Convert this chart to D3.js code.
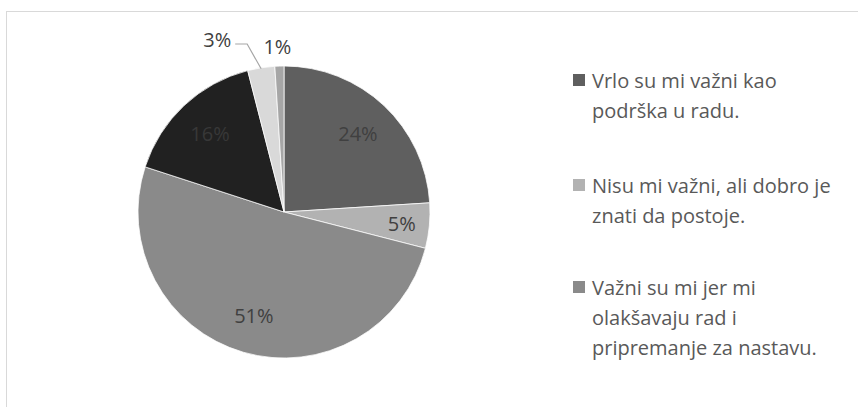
<!DOCTYPE html>
<html>
<head>
<meta charset="utf-8">
<script src="https://cdn.jsdelivr.net/npm/d3@7"></script>
<style>
  html, body { margin: 0; padding: 0; background: #fff; }
  svg { display: block; }
</style>
</head>
<body>
<svg id="chart" width="858" height="407"></svg>
<script>
// Survey answers, share of respondents (%)
const categories = [
  "Vrlo su mi važni kao podrška u radu.",
  "Nisu mi važni, ali dobro je znati da postoje.",
  "Važni su mi jer mi olakšavaju rad i pripremanje za nastavu.",
  "Nisu mi važni.",
  "Ne koristim ih.",
  "Ostalo."
];
const values = [24, 5, 51, 16, 3, 1];
const sliceColors = ["#5f5f5f", "#b2b2b2", "#8a8a8a", "#212121", "#d9d9d9", "#a6a6a6"];
// legend lines as wrapped in the visible legend area
const legendLines = [
  ["Vrlo su mi važni kao", "podrška u radu."],
  ["Nisu mi važni, ali dobro je", "znati da postoje."],
  ["Važni su mi jer mi", "olakšavaju rad i", "pripremanje za nastavu."]
];

const svg = d3.select("#chart");
const font = "'Open Sans', 'Noto Sans', sans-serif";

// chart area frame
svg.append("rect")
  .attr("x", 6.5).attr("y", 11.5)
  .attr("width", 900).attr("height", 450)
  .attr("fill", "#fff")
  .attr("stroke", "#d9d9d9").attr("stroke-width", 1);

const cx = 284, cy = 212, R = 146;
const g = svg.append("g").attr("transform", `translate(${cx},${cy})`);

const pie = d3.pie().sort(null).value(d => d);
const arcs = pie(values);
const arc = d3.arc().innerRadius(0).outerRadius(R);

g.selectAll("path.slice")
  .data(arcs)
  .join("path")
  .attr("class", "slice")
  .attr("d", arc)
  .attr("fill", (d, i) => sliceColors[i])
  .attr("stroke", "#ffffff")
  .attr("stroke-width", 0.75);

// labels inside the larger slices; narrow slices get them nearer the rim
const labelRadius = d => (d.data < 10 ? 0.81 : 0.74) * R;
const inside = arcs.filter(d => d.data >= 5);
g.selectAll("text.inlabel")
  .data(inside)
  .join("text")
  .attr("class", "inlabel")
  .each(function (d) {
    const r = labelRadius(d);
    const c = d3.arc().innerRadius(r).outerRadius(r).centroid(d);
    d3.select(this).attr("x", c[0]).attr("y", c[1]);
  })
  .attr("text-anchor", "middle")
  .attr("dominant-baseline", "central")
  .attr("font-family", font)
  .attr("font-size", 20)
  .attr("fill", d => d.data === 16 ? "#383838" : "#404040")
  .text(d => d.data + "%");

// small slices: labels above the pie
const small = arcs.filter(d => d.data < 5);
const edgeArc = d3.arc().innerRadius(R).outerRadius(R);
small.forEach(d => {
  const [ex, ey] = edgeArc.centroid(d);
  if (d.data === 3) {
    const lx = ex - 14, ly = -R - 22;
    g.append("path")
      .attr("d", `M${ex},${ey + 1} L${lx},${ly} L${lx - 12},${ly}`)
      .attr("fill", "none")
      .attr("stroke", "#a6a6a6")
      .attr("stroke-width", 1.2);
    g.append("text")
      .attr("x", lx - 16).attr("y", ly - 5)
      .attr("text-anchor", "end")
      .attr("dominant-baseline", "central")
      .attr("font-family", font).attr("font-size", 20)
      .attr("fill", "#404040")
      .text(d.data + "%");
  } else {
    g.append("text")
      .attr("x", ex - 2).attr("y", -R - 20)
      .attr("text-anchor", "middle")
      .attr("dominant-baseline", "central")
      .attr("font-family", font).attr("font-size", 20)
      .attr("fill", "#404040")
      .text(d.data + "%");
  }
});

// legend
const legend = svg.append("g").attr("transform", "translate(573,0)");
const itemTops = [80, 185, 287];
legendLines.forEach((lines, i) => {
  const y0 = itemTops[i];
  legend.append("rect")
    .attr("x", 0).attr("y", y0 - 6)
    .attr("width", 12).attr("height", 12)
    .attr("fill", sliceColors[i]);
  lines.forEach((t, j) => {
    legend.append("text")
      .attr("x", 19).attr("y", y0 + j * 30)
      .attr("dominant-baseline", "central")
      .attr("font-family", font).attr("font-size", 20)
      .attr("fill", "#595959")
      .text(t);
  });
});
</script>
</body>
</html>
